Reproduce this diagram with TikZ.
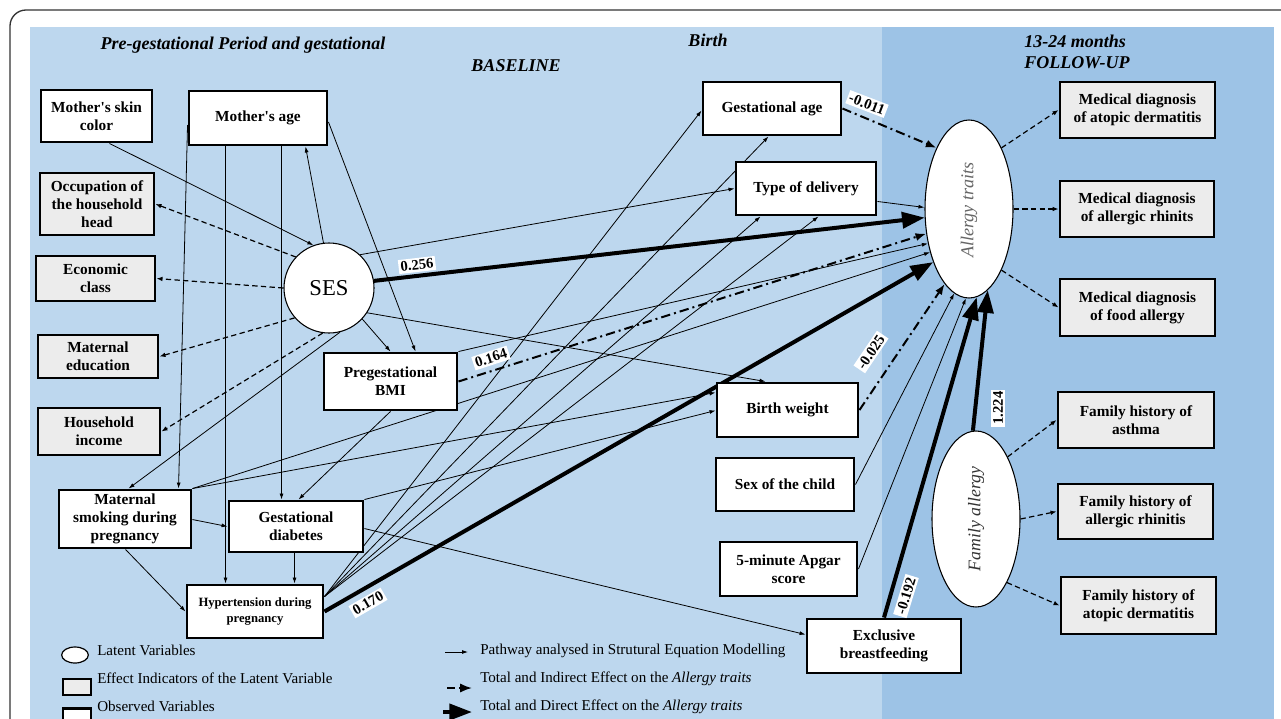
\documentclass[tikz,border=0pt]{standalone}
\usepackage{fontspec}
\setmainfont{Liberation Serif}
\usetikzlibrary{shapes.geometric,arrows.meta,calc}
\pgfdeclarelayer{back}
\pgfdeclarelayer{lines}
\pgfsetlayers{back,lines,main}
\definecolor{panelA}{RGB}{189,215,238}
\definecolor{panelB}{RGB}{157,195,230}
\definecolor{indfill}{RGB}{236,236,236}
\newcommand{\pbox}[7]{%
 \pgfmathsetmacro\pbcx{(#3+#5)/2}%
 \pgfmathsetmacro\pbcy{(#4+#6)/2}%
 \pgfmathsetmacro\pbw{(#5-#3)*0.75}%
 \pgfmathsetmacro\pbh{(#6-#4)*0.75}%
 \node[#1, minimum width=\pbw pt, minimum height=\pbh pt] (#2) at (\pbcx,\pbcy) {#7};}
\begin{document}
\begin{tikzpicture}[x=0.75pt,y=-0.75pt,
 obs/.style={draw, line width=2.2pt, fill=white, align=center, inner sep=1pt, font=\fontsize{11.5}{13.5}\selectfont\bfseries},
 ind/.style={obs, fill=indfill},
 path/.style={line width=0.6pt, -{Latex[length=4.5pt,width=3pt]}},
 indic/.style={line width=0.9pt, dash pattern=on 4pt off 2.5pt, -{Latex[length=4.5pt,width=3.5pt]}},
 ddot/.style={line width=1.5pt, dash pattern=on 7pt off 3pt on 1.5pt off 3pt, -{Latex[length=8pt,width=6pt]}},
 direct/.style={line width=3pt, -{Triangle[length=17pt,width=12pt]}},
 coef/.style={fill=white, inner sep=1.5pt, font=\fontsize{11}{12}\selectfont\bfseries},
 hdr/.style={font=\fontsize{13.5}{16}\selectfont\bfseries\itshape},
 lgtext/.style={anchor=west, inner sep=0pt, font=\fontsize{11.3}{13}\selectfont},
 latent/.style={ellipse, draw, line width=0.8pt, fill=white, inner sep=0pt}
]
\useasboundingbox (0,0) rectangle (1281,718);
\clip (0,0) rectangle (1281,718);
\begin{pgfonlayer}{back}
\fill[white] (0,0) rectangle (1281,718);
\fill[panelA] (30,27) rectangle (882,740);
\fill[panelB] (882,27) rectangle (1274,740);
\draw[line width=1pt, black!80, rounded corners=12pt] (10,760) -- (10,10) -- (1320,10);
\end{pgfonlayer}

% headers
\node[hdr] (h1) at (243,45) {Pre-gestational Period and gestational};
\node[hdr] (h2) at (708,40) {Birth};
\node[hdr] (h3) at (516,66) {BASELINE};
\node[hdr, anchor=west, align=left, inner sep=0pt] (h4) at (1024,52) {13-24 months\\FOLLOW-UP};

% boxes
\pbox{obs}{skin}{41}{90}{152}{142}{Mother\textquotesingle s skin\\color}
\pbox{obs}{age}{189}{91}{327}{145}{Mother\textquotesingle s age}
\pbox{ind}{occ}{40}{173}{154}{235}{Occupation of\\the household\\head}
\pbox{ind}{econ}{36}{256}{155}{301}{Economic\\class}
\pbox{ind}{edu}{38}{335}{158}{378}{Maternal\\education}
\pbox{ind}{inc}{38}{408}{160}{455}{Household\\income}
\pbox{obs}{bmi}{324}{353}{457}{410}{Pregestational\\BMI}
\pbox{obs}{ms}{59}{490}{191}{548}{Maternal\\smoking during\\pregnancy}
\pbox{obs}{gd}{229}{501}{363}{552}{Gestational\\diabetes}
\pbox{obs,font=\fontsize{9.5}{11.5}\selectfont\bfseries}{hyp}{187}{585}{323}{638}{Hypertension during\\pregnancy}
\pbox{obs}{ga}{703}{82}{841}{135}{Gestational age}
\pbox{obs}{tod}{736}{162}{876}{215}{Type of delivery}
\pbox{obs}{bw}{717}{383}{858}{437}{Birth weight}
\pbox{obs}{sex}{716}{458}{854}{511}{Sex of the child}
\pbox{obs}{apgar}{720}{542}{857}{596}{5-minute Apgar\\score}
\pbox{obs}{ebf}{807}{619}{961}{673}{Exclusive\\breastfeeding}
\pbox{ind}{md1}{1060}{82}{1215}{138}{Medical diagnosis\\of atopic dermatitis}
\pbox{ind}{md2}{1060}{181}{1214}{237}{Medical diagnosis\\of allergic rhinits}
\pbox{ind}{md3}{1060}{279}{1215}{336}{Medical diagnosis\\of food allergy}
\pbox{ind}{fh1}{1058}{392}{1214}{448}{Family history of\\asthma}
\pbox{ind}{fh2}{1058}{484}{1213}{539}{Family history of\\allergic rhinitis}
\pbox{ind}{fh3}{1061}{577}{1216}{634}{Family history of\\atopic dermatitis}

% latent variables
\node[latent, circle, minimum size=67.5pt, font=\fontsize{17}{20}\selectfont] (ses) at (329,288) {SES};
\node[latent, minimum width=66pt, minimum height=133.5pt] (allergy) at (969,209) {};
\node[rotate=90, font=\fontsize{13.6}{16}\selectfont\itshape, text=black!60] (allergyt) at (969,210) {Allergy traits};
\node[latent, minimum width=66pt, minimum height=132pt] (family) at (976,519) {};
\node[rotate=90, font=\fontsize{13.3}{16}\selectfont\itshape, text=black!80] (familyt) at (976,519) {Family allergy};

\begin{pgfonlayer}{lines}
% pre-gestational
\draw[path] ($(skin.south)+(13,0)$) -- (ses.110);
\draw[path] (ses.97) -- ($(age.south west)+(118,0)$);
\draw[path] ($(age.east)+(0,4)$) -- ($(bmi.north west)+(93,0)$);
\draw[path] ($(age.west)+(0,7)$) -- ($(ms.north west)+(121,0)$);
\draw[path] ($(age.south west)+(38,0)$) -- ($(hyp.north west)+(40,0)$);
\draw[path] ($(age.south west)+(94,0)$) -- ($(gd.north west)+(54,0)$);
\draw[indic] (ses.137) -- (occ.east);
\draw[indic] (ses.180) -- (econ.east);
\draw[indic] (ses.221) -- (edu.east);
\draw[indic] (ses.262) -- (inc.east);
\draw[path] (ses.284) -- ($(ms.north west)+(71,0)$);
\draw[path] (ses.-43) -- (bmi.north);
\draw[path] (ses.-33) -- ($(bw.north west)+(50,0)$);
\draw[path] (ses.47) -- (tod.west);
\draw[direct] (ses.9) -- (allergy.191);
\draw[path] (bmi.south) -- ($(gd.north west)+(71,0)$);
\draw[ddot] (bmi.east) -- (allergy.210);
\draw[path] (bmi.north east) -- (allergy.220);
\draw[path] ($(ms.north east)+(0,31)$) -- (gd.west);
\draw[path] ($(ms.south west)+(68,0)$) -- (hyp.west);
\draw[path] (ms.north east) -- ($(bw.north west)+(0,11)$);
\draw[path] (ms.north east) -- (allergy.228);
\draw[path] (gd.north east) -- ($(bw.north west)+(0,29)$);
\draw[path] ($(gd.north east)+(0,29)$) -- ($(ebf.north west)+(0,17)$);
\draw[path] ($(gd.south west)+(67,0)$) -- ($(hyp.north west)+(109,0)$);
\coordinate (hypc) at ($(hyp.north east)+(0,13)$);
\draw[path] (hypc) -- ($(ga.north west)+(0,30)$);
\draw[path] (hypc) -- ($(ga.south west)+(67,0)$);
\draw[path] (hypc) -- ($(tod.south west)+(26,0)$);
\draw[path] (hypc) -- ($(tod.south west)+(84,0)$);
\draw[direct] (hyp.east) -- (allergy.236);
% birth
\draw[ddot] (ga.east) -- (allergy.118);
\draw[path] ($(tod.south east)+(0,-15)$) -- (allergy.178);
\draw[ddot] (bw.east) -- (allergy.252);
\draw[path] (sex.east) -- (allergy.260);
\draw[path] (apgar.east) -- (allergy.268);
\draw[direct] (ebf.north) -- (allergy.275);
\draw[direct] (family.92) -- (allergy.283);
% follow-up indicators
\draw[indic] (allergy.62) -- (md1.west);
\draw[indic] (allergy.east) -- (md2.west);
\draw[indic] (allergy.-62) -- (md3.west);
\draw[indic] (family.63) -- (fh1.west);
\draw[indic] (family.east) -- (fh2.west);
\draw[indic] (family.-64) -- (fh3.west);
\end{pgfonlayer}

% coefficients
\node[coef, rotate=6.5] (c256) at (417,265) {0.256};
\node[coef, rotate=18] (c164) at (491,358) {0.164};
\node[coef, rotate=30] (c170) at (368,603) {0.170};
\node[coef, rotate=-21] (c011) at (867,104) {-0.011};
\node[coef, rotate=56] (c025) at (871,352) {-0.025};
\node[coef, rotate=73] (c192) at (906,596) {-0.192};
\node[coef, rotate=90] (c224) at (998,408) {1.224};

% legend
\node[latent, line width=0.9pt, minimum width=20pt, minimum height=12pt] (lgl) at (75,655) {};
\node[ind, minimum width=21pt, minimum height=12pt] (lgi) at (77,687) {};
\node[obs, minimum width=21pt, minimum height=13pt] (lgo) at (77,717) {};
\node[lgtext] (lt1) at (97,650) {Latent Variables};
\node[lgtext] (lt2) at (97,678) {Effect Indicators of the Latent Variable};
\node[lgtext] (lt3) at (97,706) {Observed Variables};
\coordinate (la1s) at (445,652); \coordinate (la1e) at (468,652);
\coordinate (la2s) at (447,688); \coordinate (la2e) at (472,688);
\coordinate (la3s) at (443,712); \coordinate (la3e) at (472,712);
\draw[path] (la1s) -- (la1e);
\draw[line width=1.5pt, dash pattern=on 6pt off 3pt, -{Latex[length=9pt,width=7pt]}] (la2s) -- (la2e);
\draw[direct] (la3s) -- (la3e);
\node[lgtext] (lt4) at (480,651) {Pathway analysed in Strutural Equation Modelling};
\node[lgtext] (lt5) at (480,679) {Total and Indirect Effect on the \textit{Allergy traits}};
\node[lgtext] (lt6) at (480,707) {Total and Direct Effect on the \textit{Allergy traits}};
\end{tikzpicture}
\end{document}
